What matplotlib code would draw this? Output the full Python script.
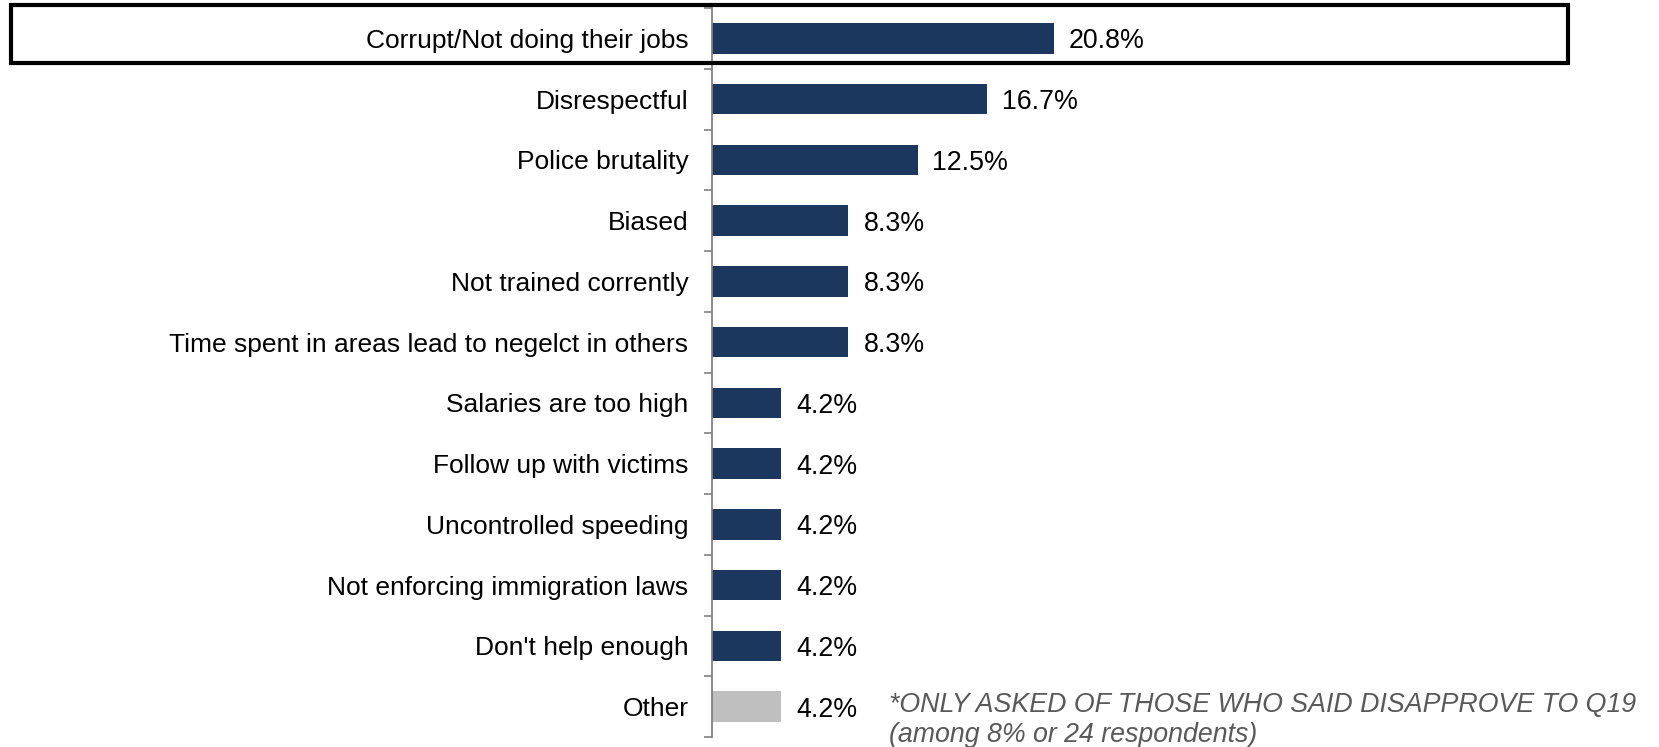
import matplotlib
matplotlib.use("Agg")
import matplotlib.pyplot as plt
from matplotlib.patches import Rectangle

# data
categories = ["Corrupt/Not doing their jobs", "Disrespectful", "Police brutality",
              "Biased", "Not trained corrently", "Time spent in areas lead to negelct in others",
              "Salaries are too high", "Follow up with victims", "Uncontrolled speeding",
              "Not enforcing immigration laws", "Don't help enough", "Other"]
values = [20.8, 16.7, 12.5, 8.3, 8.3, 8.3, 4.2, 4.2, 4.2, 4.2, 4.2, 4.2]
labels = ["20.8%", "16.7%", "12.5%", "8.3%", "8.3%", "8.3%",
          "4.2%", "4.2%", "4.2%", "4.2%", "4.2%", "4.2%"]
note = "*ONLY ASKED OF THOSE WHO SAID DISAPPROVE TO Q19\n(among 8% or 24 respondents)"

NAVY = "#1B375E"
GREY = "#BFBFBF"

plt.rcParams['font.family'] = ['Liberation Sans', 'DejaVu Sans']

W, H = 1659, 747
fig = plt.figure(figsize=(W / 100, H / 100), dpi=100)

# axes placed in pixel terms of the reference
ax_left, ax_right = 712, 1640
ax_top, ax_bot = 8, 737
ax = fig.add_axes([ax_left / W, 1 - ax_bot / H, (ax_right - ax_left) / W, (ax_bot - ax_top) / H])

px_per_unit = 16.44
ax.set_xlim(0, (ax_right - ax_left) / px_per_unit)
ax.set_ylim(len(categories) - 0.5, -0.5)

ypos = list(range(len(categories)))
colors = [NAVY] * (len(categories) - 1) + [GREY]
ax.barh(ypos, values, height=0.5, color=colors, edgecolor="none")

for y, v, lab in zip(ypos, values, labels):
    ax.annotate(lab, (v, y), xytext=(15, 0), textcoords="offset pixels",
                va="center_baseline", ha="left", fontsize=19.3, color="black")

# category labels on minor ticks, tick marks on the boundaries
ax.set_yticks([y + 0.5 for y in range(-1, len(categories))])
ax.set_yticklabels([])
ax.set_yticks(ypos, minor=True)
ax.set_yticklabels(categories, minor=True, fontsize=19)
ax.tick_params(axis="y", which="major", length=6, width=1.2, color="#808080", direction="out")
ax.tick_params(axis="y", which="minor", length=0, pad=17)
ax.set_xticks([])

for s in ["top", "right", "bottom"]:
    ax.spines[s].set_visible(False)
ax.spines["left"].set_color("#808080")
ax.spines["left"].set_linewidth(1.3)

# highlight box around the first row
bx0, bx1, by0, by1 = 11, 1568, 5, 63
fig.patches.append(Rectangle((bx0 / W, 1 - by1 / H), (bx1 - bx0) / W, (by1 - by0) / H,
                             transform=fig.transFigure, fill=False,
                             edgecolor="black", linewidth=3, zorder=10))

fig.text(889 / W, 1 - 692 / H, note, ha="left", va="top", fontsize=19.3,
         style="italic", color="#595959", linespacing=1.22)

fig.savefig("out.png", dpi=100)
